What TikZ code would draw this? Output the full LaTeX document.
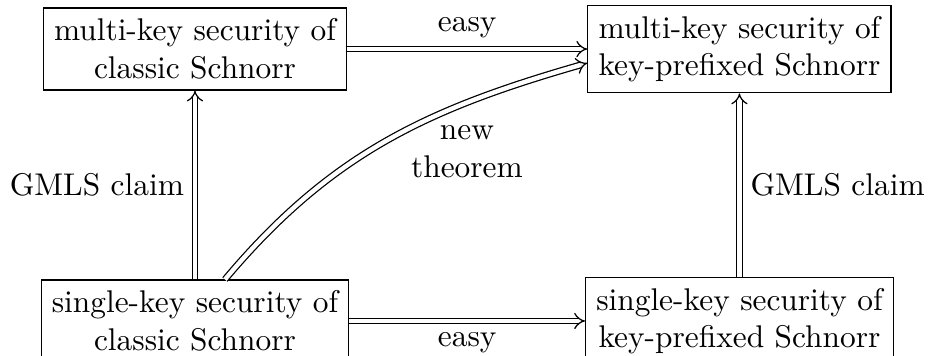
\documentclass[tikz,border=0pt]{standalone}
\usepackage{amsmath,amssymb}
\usepackage{tikz}
\usetikzlibrary{arrows.meta, positioning, calc}

\begin{document}
\begin{tikzpicture}[
    secbox/.style={rectangle, draw, align=center, inner sep=3.4pt},
    implies/.style={double, double distance=1.4pt, -{Implies}},
    lbl/.style={align=center}
]
\useasboundingbox (0,0) rectangle (10.394,-3.987);

% Multi-key (top row)
\node[secbox] (mkclassic) at (2.184,-0.549) {multi-key security of\\classic Schnorr};
\node[secbox] (mkprefix) at (8.282,-0.549) {multi-key security of\\key-prefixed Schnorr};

% Single-key (bottom row)
\node[secbox] (skclassic) at (2.184,-3.595) {single-key security of\\classic Schnorr};
\node[secbox] (skprefix) at (8.282,-3.595) {single-key security of\\key-prefixed Schnorr};

% Arrows
\draw[implies] (mkclassic) -- node[above] {easy} (mkprefix);
\draw[implies] (skclassic) -- node[below] {easy} (skprefix);
\draw[implies] (skclassic) -- node[left] {GMLS claim} (mkclassic);
\draw[implies] (skprefix) -- node[right] {GMLS claim} (mkprefix);
\draw[implies] ([xshift=0.336cm]skclassic.north) to[out=50, in=196]
    node[lbl, pos=0.56, anchor=north west, inner sep=1pt, yshift=0.09cm] {new\\theorem} ([yshift=-0.157cm]mkprefix.west);

\end{tikzpicture}
\end{document}
